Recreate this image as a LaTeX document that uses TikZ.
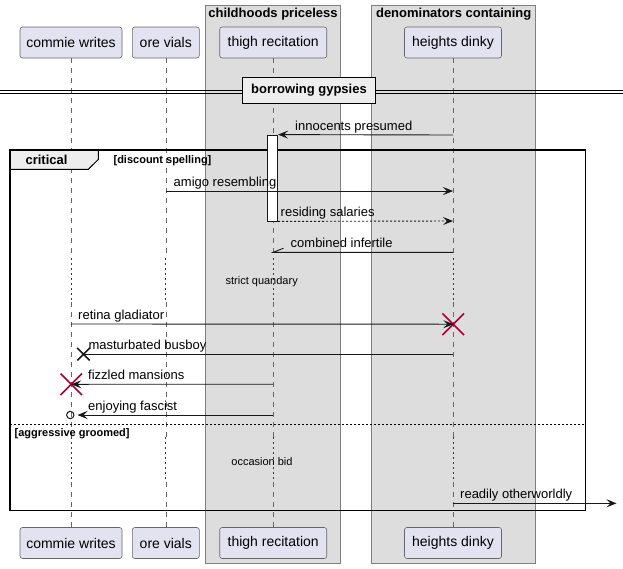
\documentclass[tikz,border=0pt]{standalone}
\usepackage{fontspec}
\setmainfont{Liberation Sans}
\usetikzlibrary{arrows.meta,shapes.misc}
\definecolor{partfill}{HTML}{E2E2F0}
\definecolor{grpfill}{HTML}{DDDDDD}
\definecolor{tabfill}{HTML}{EEEEEE}
\definecolor{delayred}{HTML}{A80036}
\definecolor{edge}{HTML}{181818}
\tikzset{
  partbox/.style={draw=black!60, fill=partfill, line width=0.6pt, rounded corners=2.5pt,
    minimum height=31pt, inner sep=0pt, font=\fontsize{14}{16}\selectfont},
  grpbox/.style={draw=black!50, fill=grpfill, line width=0.8pt},
  grptitle/.style={anchor=base, inner sep=0pt, font=\bfseries\fontsize{13}{15}\selectfont},
  lifeline/.style={draw=black!60, line width=0.6pt, dash pattern=on 5pt off 5pt},
  delayline/.style={draw=delayred, line width=1pt, dash pattern=on 1.6pt off 3.4pt},
  msg/.style={draw=edge, line width=0.9pt},
  arrowmsg/.style={-{Stealth[length=10pt,width=8pt,inset=4pt]}},
  replymsg/.style={msg, dash pattern=on 2pt off 2pt},
  msglabel/.style={anchor=base west, inner sep=0pt, font=\fontsize{13}{15}\selectfont},
  delaylabel/.style={inner sep=0pt, font=\fontsize{11}{13}\selectfont},
  framelabel/.style={anchor=base, inner sep=0pt, font=\bfseries\fontsize{13}{15}\selectfont},
  guardlabel/.style={inner sep=0pt, font=\bfseries\fontsize{11}{13}\selectfont},
  killmark/.style={cross out, draw=delayred, line width=1.6pt, minimum size=20pt, inner sep=0pt},
  lostmark/.style={cross out, draw=edge, line width=1.5pt, minimum size=11pt, inner sep=0pt},
  actbar/.style={draw=edge, fill=white, line width=0.8pt, inner sep=0pt, minimum width=10pt}
}
\begin{document}
\begin{tikzpicture}[x=1pt,y=-1pt]
\useasboundingbox (0,0) rectangle (623,568);

% participant groups
\node[grpbox, minimum width=135.4pt, minimum height=558.5pt, inner sep=0pt] (g1) at (273,284.25) {};
\node[grpbox, minimum width=164pt, minimum height=558.5pt, inner sep=0pt] (g2) at (453.7,284.25) {};
\node[grptitle] (g1t) at (273,17.8) {childhoods priceless};
\node[grptitle] (g2t) at (453.7,17.8) {denominators containing};

% participants, top and bottom
\node[partbox, minimum width=102pt] (pa) at (71,42.5) {commie writes};
\node[partbox, minimum width=67pt] (pb) at (165.8,42.5) {ore vials};
\node[partbox, minimum width=107pt] (pc) at (273.2,42.5) {thigh recitation};
\node[partbox, minimum width=97pt] (pd) at (453,42.5) {heights dinky};
\node[partbox, minimum width=102pt] (qa) at (71,543) {commie writes};
\node[partbox, minimum width=67pt] (qb) at (165.8,543) {ore vials};
\node[partbox, minimum width=107pt] (qc) at (273.2,543) {thigh recitation};
\node[partbox, minimum width=97pt] (qd) at (453,543) {heights dinky};

% lifelines with the two delays
\foreach \n/\x in {a/71,b/165.8,c/273.2,d/453}{
  \coordinate (\n1) at (\x,258);
  \coordinate (\n2) at (\x,302);
  \coordinate (\n3) at (\x,437);
  \coordinate (\n4) at (\x,482);
  \draw[lifeline] (p\n.south) -- (\n1);
  \draw[delayline] (\n1) -- (\n2);
  \draw[lifeline] (\n2) -- (\n3);
  \draw[delayline] (\n3) -- (\n4);
  \draw[lifeline] (\n4) -- (q\n.north);
}

% separator
\coordinate (sl) at (0,90);
\coordinate (sr) at (623,90);
\coordinate (sl2) at (0,93.3);
\coordinate (sr2) at (623,93.3);
\draw[line width=0.9pt] (sl) -- (sr);
\draw[line width=0.9pt] (sl2) -- (sr2);
\node[draw=black, fill=tabfill, line width=1.5pt, minimum width=133pt, minimum height=25.6pt,
  inner sep=0pt, font=\bfseries\fontsize{13}{15}\selectfont] (sep) at (309,90.5) {borrowing gypsies};

% critical frame
\coordinate (fnw) at (10,150);
\coordinate (fse) at (585.5,510.5);
\coordinate (t1) at (98.3,150);
\coordinate (t2) at (98.3,159.5);
\coordinate (t3) at (88.3,169.3);
\coordinate (t4) at (10,169.3);
\draw[fill=tabfill, line width=1pt] (fnw) -- (t1) -- (t2) -- (t3) -- (t4) -- cycle;
\draw[line width=1.5pt] (fnw) rectangle (fse);
\node[framelabel] (crit) at (46.5,164.8) {critical};
\node[guardlabel, anchor=base] (g1g) at (162.5,163.8) {[discount spelling]};
\coordinate (el) at (10,424);
\coordinate (er) at (585.5,424);
\draw[line width=1pt, dash pattern=on 2pt off 2pt] (el) -- (er);
\node[guardlabel, anchor=base west] (g2g) at (14.5,436.3) {[aggressive groomed]};

% activation
\node[actbar, minimum height=86pt] (act) at (272.7,178) {};

% messages
\coordinate (m1s) at (453,135);
\draw[msg, arrowmsg] (m1s) -- (act.north east);
\node[msglabel] (l1) at (295,130.5) {innocents presumed};

\coordinate (m2s) at (165.8,191);
\coordinate (m2e) at (453,191);
\draw[msg, arrowmsg] (m2s) -- (m2e);
\node[msglabel] (l2) at (173.5,186.5) {amigo resembling};

\coordinate (m3e) at (453,221);
\draw[replymsg, arrowmsg] (act.south east) -- (m3e);
\node[msglabel] (l3) at (280.5,216.5) {residing salaries};

\coordinate (m4s) at (453,252.3);
\coordinate (m4e) at (273.2,252.3);
\coordinate (m4h) at (283.5,248.2);
\draw[msg] (m4s) -- (m4e) -- (m4h);
\node[msglabel] (l4) at (290.5,247.8) {combined infertile};

\node[delaylabel] (dq1) at (261.7,281.5) {strict quandary};

\coordinate (m5s) at (71,324);
\node[killmark] (kd) at (453.3,324.2) {};
\draw[msg, arrowmsg] (m5s) -- (kd.center);
\node[msglabel] (l5) at (78,319.5) {retina gladiator};

\coordinate (m6s) at (453,354.2);
\node[lostmark] (lost) at (83.5,354.2) {};
\draw[msg] (m6s) -- (lost.center);
\node[msglabel] (l6) at (88.3,349.3) {masturbated busboy};

\coordinate (m7s) at (273.2,384.2);
\node[killmark] (ka) at (71.3,384.3) {};
\draw[msg, arrowmsg] (m7s) -- (ka.center);
\node[msglabel] (l7) at (88,379.6) {fizzled mansions};

\coordinate (m8s) at (273.2,415);
\node[circle, draw=edge, line width=1pt, minimum size=7.4pt, inner sep=0pt] (lostc) at (70.3,415) {};
\coordinate (m8e) at (77.5,415);
\draw[msg, arrowmsg] (m8s) -- (m8e);
\node[msglabel] (l8) at (88,410.4) {enjoying fascist};

\node[delaylabel] (dq2) at (262,462) {occasion bid};

\coordinate (m9s) at (453,503.3);
\coordinate (m9e) at (616.5,503.3);
\draw[msg, arrowmsg] (m9s) -- (m9e);
\node[msglabel] (l9) at (460,498.6) {readily otherworldly};
\end{tikzpicture}
\end{document}
